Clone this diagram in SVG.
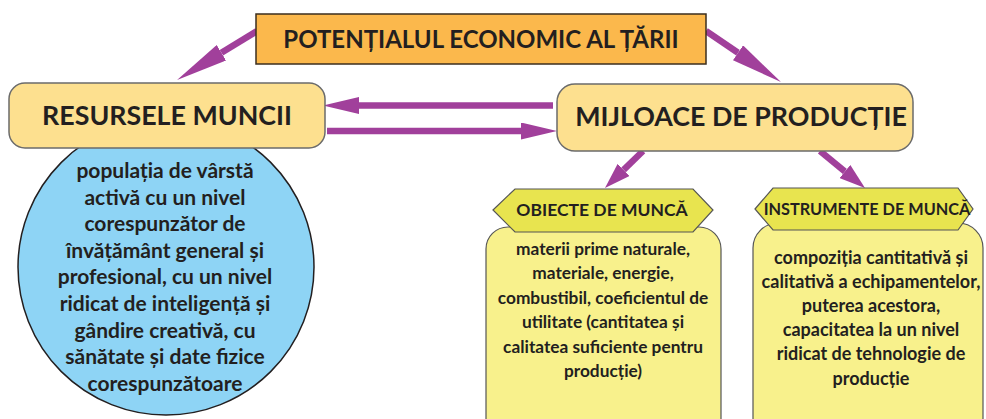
<svg xmlns="http://www.w3.org/2000/svg" width="986" height="419" viewBox="0 0 986 419">
<style>
text{font-family:Lato,"Open Sans","Liberation Sans",sans-serif;font-weight:bold;fill:#231f20;text-anchor:middle}
.shaft{stroke:#a1409b;stroke-width:6.5;fill:none}
.head{fill:#a1409b}
.main{fill:#fde08f;stroke:#6b6b6b;stroke-width:1.5}
.hex{fill:#e8e44f;stroke:#555;stroke-width:1.2}
.ybox{fill:#f8f18c;stroke:#555;stroke-width:1.2}
.big{font-size:26.8px}
.circ{font-size:21px}
.ob{font-size:17.3px}
.in{font-size:18px}
</style>
<defs>
<marker id="hH" markerUnits="userSpaceOnUse" markerWidth="36" markerHeight="17" viewBox="0 0 36 17" refX="0" refY="8.5" orient="auto"><path class="head" d="M0,0 L36,8.5 L0,17 z"/></marker>
<marker id="hL" markerUnits="userSpaceOnUse" markerWidth="52" markerHeight="18" viewBox="0 0 52 18" refX="0" refY="9" orient="auto"><path class="head" d="M0,0 L52,9 L0,18 z"/></marker>
<marker id="hS" markerUnits="userSpaceOnUse" markerWidth="26" markerHeight="17" viewBox="0 0 26 17" refX="0" refY="8.5" orient="auto"><path class="head" d="M0,0 L26,8.5 L0,17 z"/></marker>
</defs>
<rect width="986" height="419" fill="#fff"/>
<g id="connectors">
<line class="shaft" x1="257" y1="31" x2="221.4" y2="52.8" marker-end="url(#hL)"/>
<line class="shaft" x1="706" y1="31" x2="738" y2="52.8" marker-end="url(#hL)"/>
<line class="shaft" x1="553" y1="105.5" x2="359" y2="105.5" marker-end="url(#hH)"/>
<line class="shaft" x1="327" y1="131" x2="521" y2="131" marker-end="url(#hH)"/>
<line class="shaft" x1="643" y1="151" x2="623.6" y2="169.9" marker-end="url(#hS)"/>
<line class="shaft" x1="820" y1="151" x2="844.9" y2="171.5" marker-end="url(#hS)"/>
</g>
<g id="title">
<rect x="256" y="14" width="450" height="50" fill="#fbb84c" stroke="#3b2e1e" stroke-width="1.5"/>
<text x="481" y="48" font-size="24">POTENȚIALUL ECONOMIC AL ȚĂRII</text>
</g>
<g id="resurse-detail">
<circle cx="166" cy="267" r="148" fill="#8ed4f5" stroke="#231f20" stroke-width="1.5"/>
<text class="circ" x="165" y="178">populația de vârstă</text>
<text class="circ" x="165" y="205">activă cu un nivel</text>
<text class="circ" x="165" y="231">corespunzător de</text>
<text class="circ" x="165" y="258">învățământ general și</text>
<text class="circ" x="165" y="284">profesional, cu un nivel</text>
<text class="circ" x="165" y="311">ridicat de inteligență și</text>
<text class="circ" x="165" y="338">gândire creativă, cu</text>
<text class="circ" x="165" y="364">sănătate și date fizice</text>
<text class="circ" x="165" y="391">corespunzătoare</text>
</g>
<g id="resurse">
<rect class="main" x="9" y="83" width="316" height="65" rx="16"/>
<text class="big" x="167" y="125">RESURSELE MUNCII</text>
</g>
<g id="mijloace">
<rect class="main" x="557" y="84" width="356" height="67" rx="18"/>
<text class="big" x="741" y="126">MIJLOACE DE PRODUCȚIE</text>
</g>
<g id="obiecte">
<rect class="ybox" x="486" y="227" width="235" height="215" rx="22"/>
<polygon class="hex" points="493,210 515,189 693,189 713,210 693,232 515,232"/>
<text x="602" y="216" font-size="17.5">OBIECTE DE MUNCĂ</text>
<text class="ob" x="603" y="255">materii prime naturale,</text>
<text class="ob" x="603" y="279">materiale, energie,</text>
<text class="ob" x="603" y="304">combustibil, coeficientul de</text>
<text class="ob" x="603" y="328">utilitate (cantitatea și</text>
<text class="ob" x="603" y="353">calitatea suficiente pentru</text>
<text class="ob" x="603" y="377">producție)</text>
</g>
<g id="instrumente">
<rect class="ybox" x="753" y="223" width="230" height="220" rx="25"/>
<polygon class="hex" points="755,209 773,188 958,188 973,209 958,230 773,230"/>
<text x="867" y="215" font-size="16.3">INSTRUMENTE DE MUNCĂ</text>
<text class="in" x="871" y="264">compoziția cantitativă și</text>
<text class="in" x="871" y="288">calitativă a echipamentelor,</text>
<text class="in" x="871" y="312">puterea acestora,</text>
<text class="in" x="871" y="336">capacitatea la un nivel</text>
<text class="in" x="871" y="360">ridicat de tehnologie de</text>
<text class="in" x="871" y="385">producție</text>
</g>
</svg>
